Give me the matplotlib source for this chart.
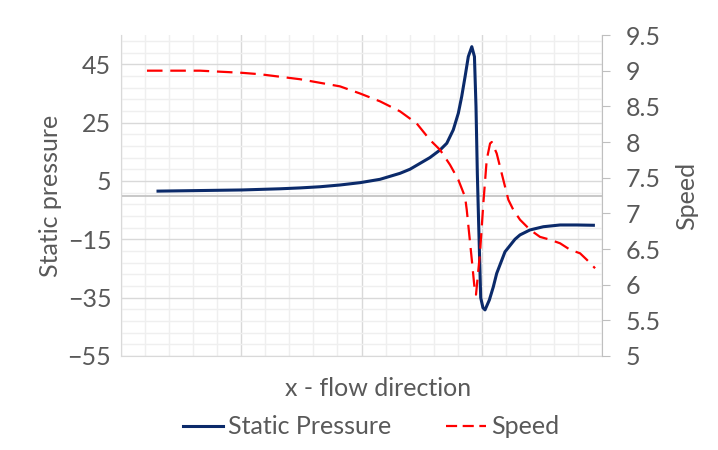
import matplotlib
matplotlib.use("Agg")
import matplotlib.pyplot as plt
from matplotlib.lines import Line2D
from matplotlib.ticker import MultipleLocator, FixedLocator, NullFormatter

# data (x in arbitrary flow-direction units, 0..4)
pressure_x = [0.308, 0.657, 1.006, 1.322, 1.489, 1.655, 1.821, 1.988, 2.154, 2.320,
              2.403, 2.486, 2.569, 2.653, 2.709, 2.763, 2.805, 2.833, 2.861, 2.888,
              2.917, 2.939, 2.952, 2.963, 2.973, 2.991, 3.010, 3.027, 3.063, 3.096,
              3.124, 3.193, 3.276, 3.318, 3.401, 3.512, 3.651, 3.790, 3.928]
pressure_y = [1.5, 1.7, 1.9, 2.3, 2.6, 3.0, 3.6, 4.4, 5.55, 7.6,
              9.0, 11.0, 13.0, 15.6, 17.9, 22.5, 28.2, 33.9, 40.7, 47.6,
              51.0, 47.6, 30.4, 7.6, -8.0, -35.0, -38.5, -39.2, -35.8, -31.3,
              -26.7, -19.3, -15.0, -13.5, -11.8, -10.7, -10.1, -10.1, -10.2]

speed_x = [0.216, 0.657, 1.006, 1.156, 1.489, 1.821, 1.988, 2.154, 2.320, 2.459,
           2.569, 2.653, 2.736, 2.805, 2.861, 2.875, 2.917, 2.944, 2.952, 2.985,
           3.013, 3.041, 3.069, 3.083, 3.124, 3.179, 3.221, 3.262, 3.318, 3.401,
           3.484, 3.568, 3.651, 3.734, 3.817, 3.873, 3.942]
speed_y = [9.00, 9.00, 8.97, 8.95, 8.88, 8.78, 8.68, 8.57, 8.43, 8.26,
           8.03, 7.89, 7.68, 7.47, 7.23, 7.05, 6.35, 5.88, 5.86, 6.44,
           7.14, 7.75, 7.98, 8.00, 7.84, 7.47, 7.19, 7.05, 6.91, 6.77,
           6.67, 6.63, 6.58, 6.49, 6.44, 6.35, 6.23]

pressure_ticks = [-55, -35, -15, 5, 25, 45]
pressure_tick_labels = ["\u221255", "\u221235", "\u221215", "5", "25", "45"]
speed_ticks = [5, 5.5, 6, 6.5, 7, 7.5, 8, 8.5, 9, 9.5]
speed_tick_labels = ["5", "5.5", "6", "6.5", "7", "7.5", "8", "8.5", "9", "9.5"]

NAVY = "#0b2a6a"
RED = "#ff0000"
TXT = "#595959"
FS = 18

plt.rcParams["font.family"] = ["Lato", "DejaVu Sans"]

fig = plt.figure(figsize=(7.18, 4.5), dpi=100)
ax = fig.add_axes([0.1685, 0.2089, 0.670, 0.7133])
ax2 = ax.twinx()

# grid on the primary axis
ax.set_xlim(0, 4)
ax.set_ylim(-55, 55)
ax.xaxis.set_major_locator(MultipleLocator(1))
ax.xaxis.set_minor_locator(MultipleLocator(0.2))
ax.yaxis.set_major_locator(FixedLocator(pressure_ticks))
ax.yaxis.set_minor_locator(FixedLocator(list(range(-55, 56, 4))))
ax.grid(which="major", color="#d9d9d9", lw=1.0)
ax.grid(which="minor", color="#efefef", lw=1.0)
ax.set_axisbelow(True)
ax.xaxis.set_major_formatter(NullFormatter())
ax.tick_params(axis="x", which="both", length=0)
ax.tick_params(axis="y", which="both", length=0, labelsize=FS, labelcolor=TXT, pad=7)
ax.set_yticklabels(pressure_tick_labels)
ax.axhline(0, color="#bfbfbf", lw=1.2, zorder=1)

for side in ["top", "right"]:
    ax.spines[side].set_visible(False)
ax.spines["left"].set_color("#d9d9d9")
ax.spines["bottom"].set_color("#d9d9d9")

ax.plot(pressure_x, pressure_y, color=NAVY, lw=2.2, zorder=3,
        solid_joinstyle="round")

ax2.set_ylim(5, 9.5)
ax2.set_yticks(speed_ticks)
ax2.set_yticklabels(speed_tick_labels)
ax2.tick_params(axis="y", length=6, color="#bfbfbf", labelsize=FS, labelcolor=TXT, pad=11)
for side in ["top", "left", "bottom"]:
    ax2.spines[side].set_visible(False)
ax2.spines["right"].set_color("#bfbfbf")
ax2.plot(speed_x, speed_y, color=RED, lw=1.6, dashes=(7, 3.5), zorder=3)

ax.set_ylabel("Static pressure", fontsize=FS, color=TXT, labelpad=4)
ax2.set_ylabel("Speed", fontsize=FS, color=TXT, labelpad=10)
fig.text(378 / 718, 1 - 388 / 450, "x - flow direction", ha="center", va="center",
         fontsize=FS, color=TXT)

handles = [Line2D([], [], color=NAVY, lw=2.2),
           Line2D([], [], color=RED, lw=1.6, dashes=(5, 2.5))]
leg = fig.legend(handles, ["Static Pressure", "Speed"], loc="center",
                 bbox_to_anchor=(371 / 718, 1 - 427 / 450), ncol=2, frameon=False,
                 fontsize=FS, handlelength=1.6, handletextpad=0.2, columnspacing=2.2)
for t in leg.get_texts():
    t.set_color(TXT)

fig.savefig("out.png", dpi=100)
